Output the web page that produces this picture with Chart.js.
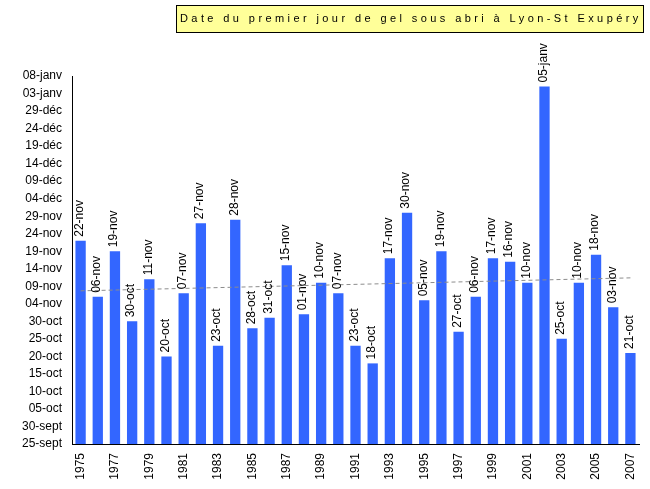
<!DOCTYPE html>
<html>
<head>
<meta charset="utf-8">
<script src="https://cdn.jsdelivr.net/npm/chart.js@4/dist/chart.umd.min.js"></script>
<style>
html,body{margin:0;padding:0;background:#fff;}
#c{display:block;}
</style>
</head>
<body>
<canvas id="c" width="650" height="489"></canvas>
<script>
// Years
const years = ['1975','1976','1977','1978','1979','1980','1981','1982','1983','1984','1985','1986','1987','1988','1989','1990','1991','1992','1993','1994','1995','1996','1997','1998','1999','2000','2001','2002','2003','2004','2005','2006','2007'];
// First frost date labels
const dateLabels = ['22-nov','06-nov','19-nov','30-oct','11-nov','20-oct','07-nov','27-nov','23-oct','28-nov','28-oct','31-oct','15-nov','01-nov','10-nov','07-nov','23-oct','18-oct','17-nov','30-nov','05-nov','19-nov','27-oct','06-nov','17-nov','16-nov','10-nov','05-janv','25-oct','10-nov','18-nov','03-nov','21-oct'];
// Days since 25 September
const frostDays = [58,42,55,35,47,25,43,63,28,64,33,36,51,37,46,43,28,23,53,66,41,55,32,42,53,52,46,102,30,46,54,39,26];
// Trend line end points, days since 25 September
const trendYears = ['1975','2007'];
const trendValues = [43.7, 47.4];
// Y tick labels (every 5 days from 25 September)
const yTickLabels = ['25-sept','30-sept','05-oct','10-oct','15-oct','20-oct','25-oct','30-oct','04-nov','09-nov','14-nov','19-nov','24-nov','29-nov','04-déc','09-déc','14-déc','19-déc','24-déc','29-déc','03-janv','08-janv'];
const titleText = 'Date du premier jour de gel sous abri à Lyon-St Exupéry';

const FONT = '"Liberation Sans", Arial, sans-serif';

const barLabelPlugin = {
  id: 'barLabels',
  afterDatasetsDraw(chart) {
    const ctx = chart.ctx;
    const meta = chart.getDatasetMeta(1);
    ctx.save();
    ctx.font = '12px ' + FONT;
    ctx.fillStyle = '#000';
    ctx.textAlign = 'left';
    ctx.textBaseline = 'middle';
    meta.data.forEach((bar, i) => {
      ctx.save();
      ctx.translate(bar.x - 1, bar.y - 4);
      ctx.rotate(-Math.PI / 2);
      ctx.fillText(dateLabels[i], 0, 0);
      ctx.restore();
    });
    ctx.restore();
  }
};

const titlePlugin = {
  id: 'boxTitle',
  afterDraw(chart) {
    const ctx = chart.ctx;
    ctx.save();
    const bx = 176.5, by = 5.5, bw = 467, bh = 27;
    ctx.fillStyle = '#FFFF99';
    ctx.fillRect(bx, by, bw, bh);
    ctx.strokeStyle = '#000';
    ctx.lineWidth = 1;
    ctx.strokeRect(bx, by, bw, bh);
    ctx.font = '11px ' + FONT;
    ctx.fillStyle = '#000';
    ctx.textBaseline = 'middle';
    ctx.textAlign = 'left';
    const w0 = ctx.measureText(titleText).width;
    const n = [...titleText].length;
    const sp = (458 - w0) / (n - 1);
    ctx.letterSpacing = sp.toFixed(2) + 'px';
    ctx.fillText(titleText, 180, 19);
    ctx.restore();
  }
};

new Chart(document.getElementById('c'), {
  data: {
    labels: years,
    datasets: [
      {
        type: 'line',
        data: trendYears.map((y, i) => ({x: y, y: trendValues[i]})),
        borderColor: '#8c8c8c',
        borderWidth: 1,
        borderDash: [4, 3],
        pointRadius: 0,
        fill: false,
        order: 0
      },
      {
        type: 'bar',
        data: frostDays,
        backgroundColor: '#3366FF',
        borderWidth: 0,
        barPercentage: 0.6,
        categoryPercentage: 1.0,
        order: 1
      }
    ]
  },
  options: {
    responsive: false,
    animation: false,
    layout: { padding: { top: 76, right: 11, left: 0, bottom: 0 } },
    plugins: {
      legend: { display: false },
      tooltip: { enabled: false },
      title: { display: false }
    },
    scales: {
      x: {
        type: 'category',
        grid: { display: false, drawTicks: false },
        border: { display: true, color: '#000', width: 1 },
        ticks: {
          autoSkip: false,
          maxRotation: 90,
          minRotation: 90,
          padding: 9,
          color: '#000',
          font: { family: FONT, size: 12 },
          callback: function(v, i) { return i % 2 === 0 ? years[i] : null; }
        },
        afterFit(scale) { scale.height = 45; scale.paddingLeft = 0; scale.paddingRight = 0; }
      },
      y: {
        min: 0,
        max: 105,
        grid: { display: false, drawTicks: false },
        border: { display: true, color: '#000', width: 1 },
        ticks: {
          stepSize: 5,
          padding: 10,
          color: '#000',
          font: { family: FONT, size: 12 },
          callback: function(v) { return yTickLabels[Math.round(v / 5)]; }
        },
        afterFit(scale) { scale.width = 72; scale.paddingTop = 0; scale.paddingBottom = 0; }
      }
    }
  },
  plugins: [barLabelPlugin, titlePlugin]
});
</script>
</body>
</html>
